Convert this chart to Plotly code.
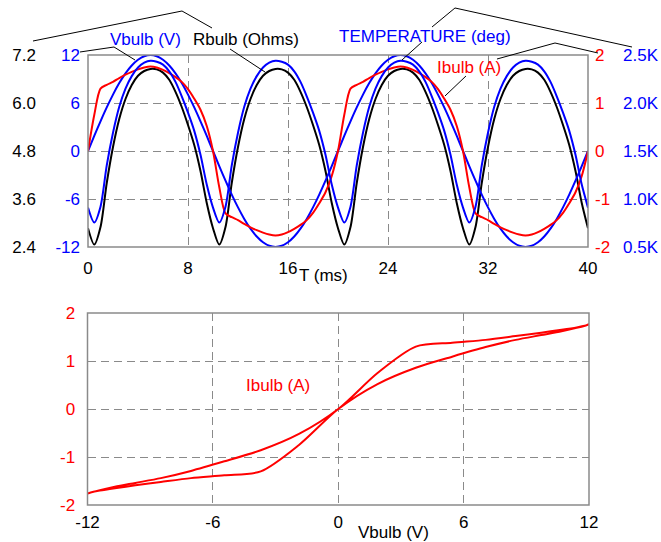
import plotly.graph_objects as go

W, H = 661, 542

# sample times (ms)
T_MS = [
    0, 0.5, 1, 1.5, 2, 2.5, 3, 3.5, 4, 4.5, 5, 5.5, 6, 6.5, 7, 7.5, 8, 8.5, 9, 9.5,
    10, 10.5, 11, 11.5, 12, 12.5, 13, 13.5, 14, 14.5, 15, 15.5, 16, 16.5, 17, 17.5, 18, 18.5, 19, 19.5,
    20, 20.5, 21, 21.5, 22, 22.5, 23, 23.5, 24, 24.5, 25, 25.5, 26, 26.5, 27, 27.5, 28, 28.5, 29, 29.5,
    30, 30.5, 31, 31.5, 32, 32.5, 33, 33.5, 34, 34.5, 35, 35.5, 36, 36.5, 37, 37.5, 38, 38.5, 39, 39.5,
    40,
]

VBULB = [
    0, 1.88, 3.71, 5.45, 7.05, 8.49, 9.71, 10.69, 11.41, 11.85, 12.0, 11.85, 11.41, 10.69, 9.71, 8.49, 7.05, 5.45, 3.71, 1.88,
    0, -1.88, -3.71, -5.45, -7.05, -8.49, -9.71, -10.69, -11.41, -11.85, -12.0, -11.85, -11.41, -10.69, -9.71, -8.49, -7.05, -5.45, -3.71, -1.88,
    0, 1.88, 3.71, 5.45, 7.05, 8.49, 9.71, 10.69, 11.41, 11.85, 12.0, 11.85, 11.41, 10.69, 9.71, 8.49, 7.05, 5.45, 3.71, 1.88,
    0, -1.88, -3.71, -5.45, -7.05, -8.49, -9.71, -10.69, -11.41, -11.85, -12.0, -11.85, -11.41, -10.69, -9.71, -8.49, -7.05, -5.45, -3.71, -1.88,
    0,
]

IBULB = [
    0.00, 0.75, 1.30, 1.38, 1.44, 1.52, 1.59, 1.65, 1.70, 1.74, 1.76, 1.74, 1.69, 1.62, 1.54, 1.44, 1.29, 1.09, 0.86, 0.52,
    0.00, -0.75, -1.30, -1.38, -1.44, -1.52, -1.59, -1.65, -1.70, -1.74, -1.76, -1.74, -1.69, -1.62, -1.54, -1.44, -1.29, -1.09, -0.86, -0.52,
    0.00, 0.75, 1.30, 1.38, 1.44, 1.52, 1.59, 1.65, 1.70, 1.74, 1.76, 1.74, 1.69, 1.62, 1.54, 1.44, 1.29, 1.09, 0.86, 0.52,
    0.00, -0.75, -1.30, -1.38, -1.44, -1.52, -1.59, -1.65, -1.70, -1.74, -1.76, -1.74, -1.69, -1.62, -1.54, -1.44, -1.29, -1.09, -0.86, -0.52,
    0.00,
]

RBULB = [
    2.87, 2.46, 2.90, 4.00, 4.90, 5.60, 6.10, 6.45, 6.68, 6.80, 6.85, 6.84, 6.76, 6.58, 6.28, 5.90, 5.45, 4.95, 4.30, 3.50,
    2.87, 2.46, 2.90, 4.00, 4.90, 5.60, 6.10, 6.45, 6.68, 6.80, 6.85, 6.84, 6.76, 6.58, 6.28, 5.90, 5.45, 4.95, 4.30, 3.50,
    2.87, 2.46, 2.90, 4.00, 4.90, 5.60, 6.10, 6.45, 6.68, 6.80, 6.85, 6.84, 6.76, 6.58, 6.28, 5.90, 5.45, 4.95, 4.30, 3.50,
    2.87, 2.46, 2.90, 4.00, 4.90, 5.60, 6.10, 6.45, 6.68, 6.80, 6.85, 6.84, 6.76, 6.58, 6.28, 5.90, 5.45, 4.95, 4.30, 3.50,
    2.87,
]

TEMP_DEG = [
    910, 755, 920, 1350, 1690, 1960, 2150, 2280, 2370, 2420, 2440, 2430, 2400, 2330, 2220, 2070, 1900, 1710, 1460, 1150,
    910, 755, 920, 1350, 1690, 1960, 2150, 2280, 2370, 2420, 2440, 2430, 2400, 2330, 2220, 2070, 1900, 1710, 1460, 1150,
    910, 755, 920, 1350, 1690, 1960, 2150, 2280, 2370, 2420, 2440, 2430, 2400, 2330, 2220, 2070, 1900, 1710, 1460, 1150,
    910, 755, 920, 1350, 1690, 1960, 2150, 2280, 2370, 2420, 2440, 2430, 2400, 2330, 2220, 2070, 1900, 1710, 1460, 1150,
    910,
]

T_TICKS = [0, 8, 16, 24, 32, 40]
R_TICKS = [2.4, 3.6, 4.8, 6.0, 7.2]
R_TICKTEXT = ['2.4', '3.6', '4.8', '6.0', '7.2']
V_TICKS = [-12, -6, 0, 6, 12]
V_TICKTEXT = ['-12', '-6', '0', '6', '12']
I_TICKS = [-2, -1, 0, 1, 2]
I_TICKTEXT = ['-2', '-1', '0', '1', '2']
TEMP_TICKS = [500, 1000, 1500, 2000, 2500]
TEMP_TICKTEXT = ['0.5K', '1.0K', '1.5K', '2.0K', '2.5K']

BLUE = '#0000ff'
RED = '#ff0000'
GRAY = '#8a8a8a'
FONT = 'Liberation Sans, Arial, sans-serif'
FS = 17


def px(x, y):
    # pixel position -> paper coordinates
    return x / W, 1 - y / H


def path(points):
    pts = [px(x, y) for x, y in points]
    return 'M ' + ' L '.join(f'{a:.5f} {b:.5f}' for a, b in pts)


TOP_X = [88 / W, 588 / W]
TOP_Y = [1 - 247 / H, 1 - 55 / H]
BOT_X = [87.5 / W, 589 / W]
BOT_Y = [1 - 505 / H, 1 - 313 / H]

fig = go.Figure()

line_kw = dict(shape='spline', smoothing=0.8, width=2)

fig.add_trace(go.Scatter(x=T_MS, y=VBULB, xaxis='x', yaxis='y2', mode='lines',
                         line=dict(color=BLUE, **line_kw)))
fig.add_trace(go.Scatter(x=T_MS, y=RBULB, xaxis='x', yaxis='y', mode='lines',
                         line=dict(color='black', **line_kw)))
fig.add_trace(go.Scatter(x=T_MS, y=TEMP_DEG, xaxis='x', yaxis='y4', mode='lines',
                         line=dict(color=BLUE, **line_kw)))
fig.add_trace(go.Scatter(x=T_MS, y=IBULB, xaxis='x', yaxis='y3', mode='lines',
                         line=dict(color=RED, **line_kw)))
fig.add_trace(go.Scatter(x=VBULB, y=IBULB, xaxis='x2', yaxis='y5', mode='lines',
                         line=dict(color=RED, **line_kw)))

grid = dict(showgrid=True, gridcolor=GRAY, gridwidth=1, griddash='8px,5px')
base = dict(showline=False, zeroline=False, automargin=False)
hidden_ticks = dict(ticks='outside', tickcolor='rgba(0,0,0,0)')

fig.update_layout(
    width=W,
    height=H,
    margin=dict(l=0, r=0, t=0, b=0, autoexpand=False),
    paper_bgcolor='white',
    plot_bgcolor='white',
    showlegend=False,
    font=dict(family=FONT, size=FS, color='black'),
    xaxis=dict(domain=TOP_X, anchor='y', range=[0, 40], tickvals=T_TICKS,
               ticklen=6, **hidden_ticks, **grid, **base),
    yaxis=dict(domain=TOP_Y, anchor='free', position=36 / W, side='left',
               range=[2.4, 7.2], tickvals=R_TICKS, ticktext=R_TICKTEXT,
               ticks='', showgrid=False, **base),
    yaxis2=dict(overlaying='y', anchor='free', position=80 / W, side='left',
                range=[-12, 12], tickvals=V_TICKS, ticktext=V_TICKTEXT, ticks='',
                tickfont=dict(color=BLUE), **grid, **base),
    yaxis3=dict(overlaying='y', anchor='free', position=594 / W, side='right',
                range=[-2, 2], tickvals=I_TICKS, ticktext=I_TICKTEXT, ticks='',
                tickfont=dict(color=RED), showgrid=False, **base),
    yaxis4=dict(overlaying='y', anchor='free', position=622 / W, side='right',
                range=[500, 2500], tickvals=TEMP_TICKS, ticktext=TEMP_TICKTEXT,
                ticks='', tickfont=dict(color=BLUE), showgrid=False, **base),
    xaxis2=dict(domain=BOT_X, anchor='y5', range=[-12, 12], tickvals=V_TICKS,
                ticktext=V_TICKTEXT, ticklen=2, **hidden_ticks, **grid, **base),
    yaxis5=dict(domain=BOT_Y, anchor='x2', range=[-2, 2], tickvals=I_TICKS,
                ticktext=I_TICKTEXT, ticklen=8, **hidden_ticks,
                tickfont=dict(color=RED), **grid, **base),
)

shapes = []
# plot frames
for xd, yd in [(TOP_X, TOP_Y), (BOT_X, BOT_Y)]:
    shapes.append(dict(type='rect', xref='paper', yref='paper',
                       x0=xd[0], x1=xd[1], y0=yd[0], y1=yd[1],
                       line=dict(color=GRAY, width=1.5), layer='above'))

# leader lines from labels to axes and curves
leaders = [
    [(33, 41), (182, 11), (212, 28)],
    [(230, 49), (265, 72)],
    [(80, 52), (114, 47), (135, 60)],
    [(632, 47), (455, 8), (432, 27)],
    [(422, 42), (402, 60)],
    [(598, 53), (555, 43), (497, 59)],
    [(466, 76), (445, 96)],
]
for pts in leaders:
    shapes.append(dict(type='path', xref='paper', yref='paper', path=path(pts),
                       line=dict(color='black', width=1)))

fig.update_layout(shapes=shapes)

labels = [
    ('Vbulb (V)', 108, 39, BLUE),
    ('Rbulb (Ohms)', 191, 39, 'black'),
    ('TEMPERATURE (deg)', 337, 37, BLUE),
    ('Ibulb (A)', 435, 68, RED),
    ('T (ms)', 297, 275, 'black'),
    ('Ibulb (A)', 244, 385, RED),
    ('Vbulb (V)', 356, 532, 'black'),
]
for text, x, y, color in labels:
    ax, ay = px(x, y)
    fig.add_annotation(text=text, x=ax, y=ay, xref='paper', yref='paper',
                       xanchor='left', yanchor='middle', showarrow=False,
                       font=dict(color=color, size=FS))

# drop the default page margin so the figure sits at the window's corner
fig.write_html('out.html', config={'displayModeBar': False},
               post_script="document.body.style.margin='0';")
